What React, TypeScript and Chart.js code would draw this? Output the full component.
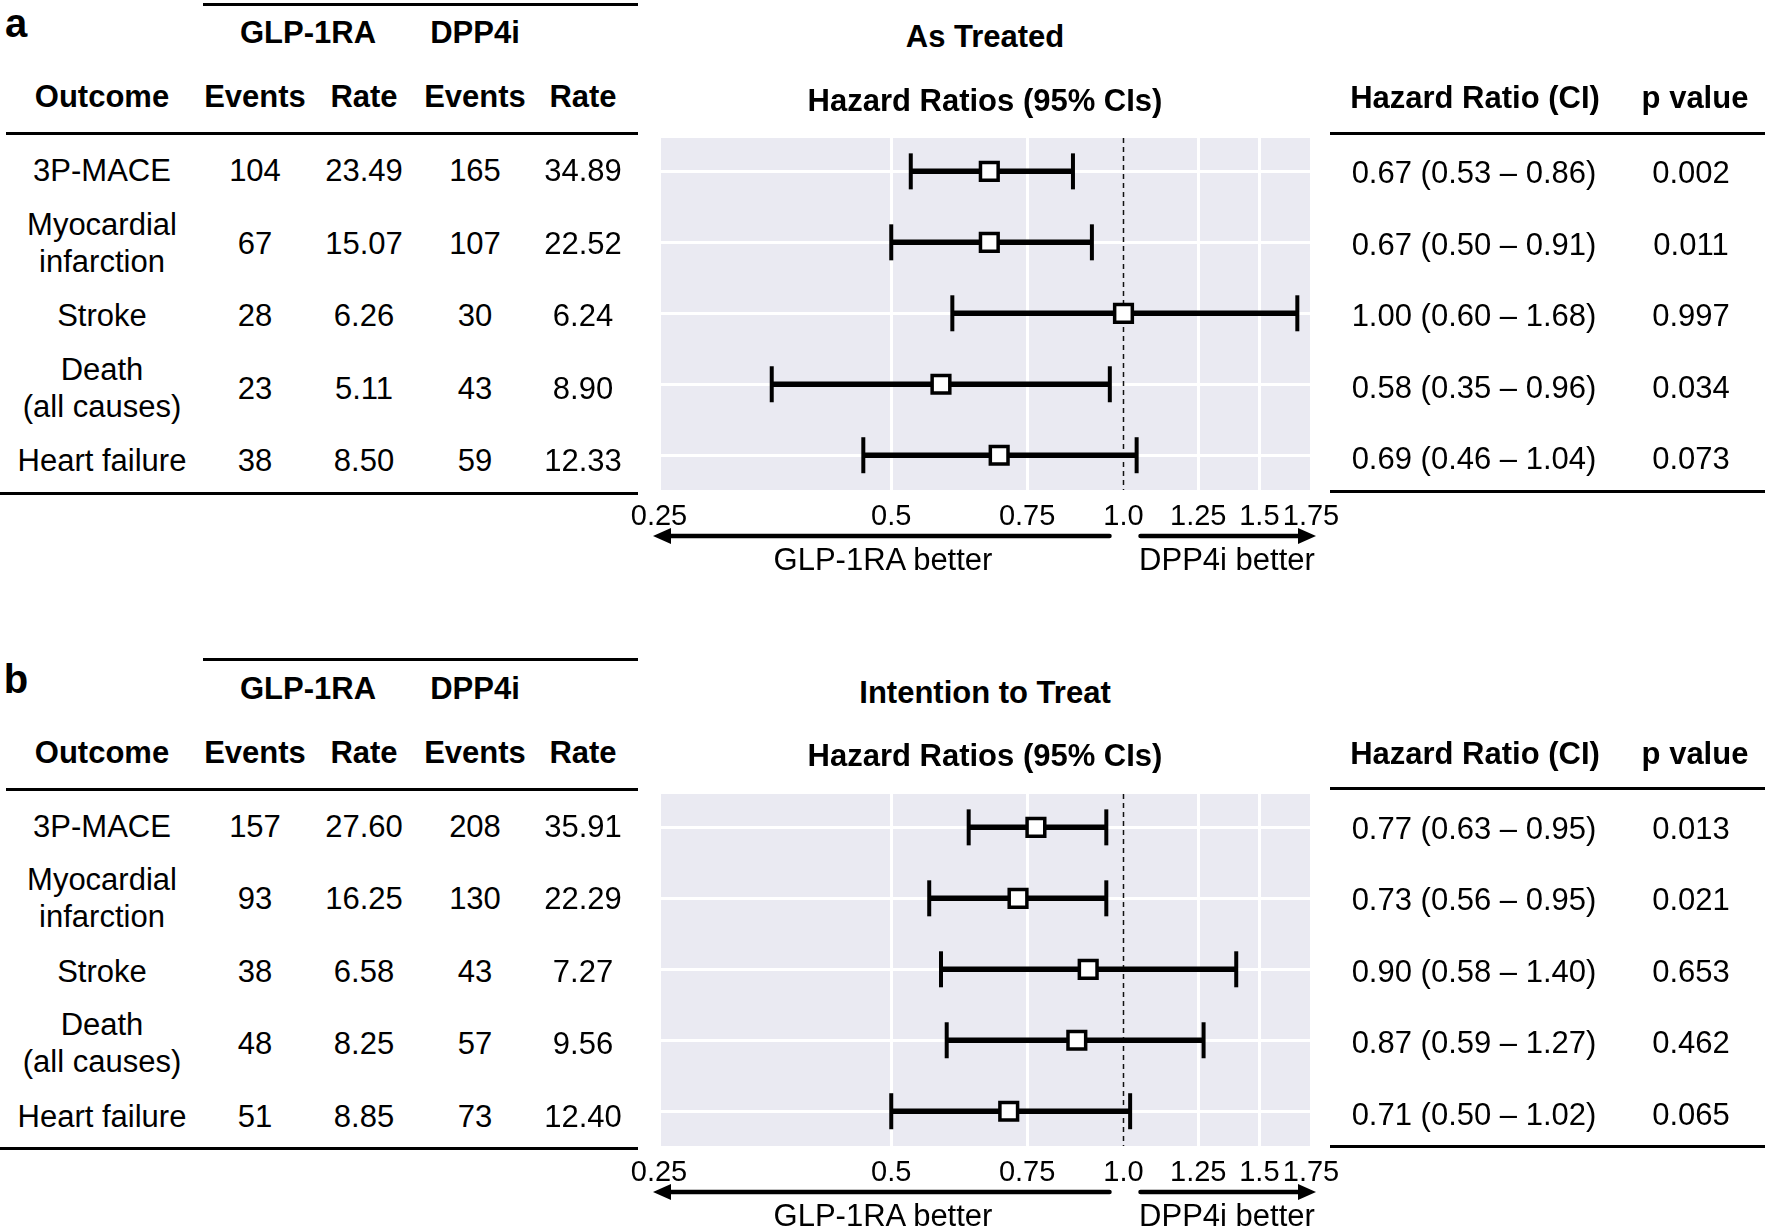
import React, { useEffect, useRef } from 'react';
import { Chart, registerables } from 'chart.js';

Chart.register(...registerables);

const FONT = '"Liberation Sans", Arial, Helvetica, sans-serif';
const NARROW = '"Liberation Sans Narrow", "Arial Narrow", "Liberation Sans", Arial, sans-serif';
Chart.defaults.font.family = FONT;

// ---------- shared categories / ticks ----------
const outcomes = ['3P-MACE', 'Myocardial\ninfarction', 'Stroke', 'Death\n(all causes)', 'Heart failure'];
const xTicks = [0.25, 0.5, 0.75, 1.0, 1.25, 1.5, 1.75];
const xTickLabels = ['0.25', '0.5', '0.75', '1.0', '1.25', '1.5', '1.75'];

// ---------- panel a: As Treated ----------
const atGlpEvents = [104, 67, 28, 23, 38];
const atGlpRate = [23.49, 15.07, 6.26, 5.11, 8.5];
const atDppEvents = [165, 107, 30, 43, 59];
const atDppRate = [34.89, 22.52, 6.24, 8.9, 12.33];
const atHR = [0.67, 0.67, 1.0, 0.58, 0.69];
const atLo = [0.53, 0.5, 0.6, 0.35, 0.46];
const atHi = [0.86, 0.91, 1.68, 0.96, 1.04];
const atP = ['0.002', '0.011', '0.997', '0.034', '0.073'];

// ---------- panel b: Intention to Treat ----------
const ittGlpEvents = [157, 93, 38, 48, 51];
const ittGlpRate = [27.6, 16.25, 6.58, 8.25, 8.85];
const ittDppEvents = [208, 130, 43, 57, 73];
const ittDppRate = [35.91, 22.29, 7.27, 9.56, 12.4];
const ittHR = [0.77, 0.73, 0.9, 0.87, 0.71];
const ittLo = [0.63, 0.56, 0.58, 0.59, 0.5];
const ittHi = [0.95, 0.95, 1.4, 1.27, 1.02];
const ittP = ['0.013', '0.021', '0.653', '0.462', '0.065'];

function T(props: { x: number; y: number; bold?: boolean; size?: number; lh?: number; children: React.ReactNode }) {
  const { x, y, bold = false, size = 31, lh = 37, children } = props;
  return (
    <div
      style={{
        position: 'absolute',
        left: x,
        top: y,
        transform: 'translate(-50%,-50%)',
        fontFamily: FONT,
        fontSize: size,
        fontWeight: bold ? 700 : 400,
        lineHeight: lh + 'px',
        whiteSpace: 'pre',
        textAlign: 'center',
        color: '#000',
      }}
    >
      {children}
    </div>
  );
}

function HLine(props: { x1: number; x2: number; y: number }) {
  return (
    <div
      style={{
        position: 'absolute',
        left: props.x1,
        top: props.y - 1.5,
        width: props.x2 - props.x1,
        height: 3,
        background: '#000',
      }}
    />
  );
}

const CANVAS_L = 620;
const CANVAS_W = 740;
const CANVAS_H = 480;

function Forest(props: { top: number; hr: number[]; lo: number[]; hi: number[] }) {
  const ref = useRef<HTMLCanvasElement>(null);
  useEffect(() => {
    if (!ref.current) return;
    const { hr, lo, hi } = props;
    const bgPlugin = {
      id: 'forestDeco',
      beforeDraw(chart: any) {
        const { ctx, chartArea: a } = chart;
        ctx.save();
        ctx.fillStyle = '#EAEAF2';
        ctx.fillRect(a.left, a.top, a.right - a.left, a.bottom - a.top);
        ctx.restore();
      },
      beforeDatasetsDraw(chart: any) {
        const { ctx, chartArea: a } = chart;
        const x = chart.scales.x.getPixelForValue(1);
        ctx.save();
        ctx.strokeStyle = '#111';
        ctx.lineWidth = 1.5;
        ctx.setLineDash([5, 4]);
        ctx.beginPath();
        ctx.moveTo(x, a.top);
        ctx.lineTo(x, a.bottom);
        ctx.stroke();
        ctx.restore();
      },
      afterDraw(chart: any) {
        const { ctx, chartArea: a } = chart;
        const x1 = chart.scales.x.getPixelForValue(1);
        const ay = a.bottom + 46;
        const head = (tipX: number, dir: number) => {
          ctx.beginPath();
          ctx.moveTo(tipX, ay);
          ctx.lineTo(tipX - dir * 18, ay - 8);
          ctx.lineTo(tipX - dir * 18, ay + 8);
          ctx.closePath();
          ctx.fill();
        };
        ctx.save();
        ctx.strokeStyle = '#000';
        ctx.fillStyle = '#000';
        ctx.lineWidth = 4.5;
        ctx.lineCap = 'round';
        ctx.beginPath();
        ctx.moveTo(x1 - 14, ay);
        ctx.lineTo(a.left + 6, ay);
        ctx.stroke();
        head(a.left - 6, -1);
        ctx.beginPath();
        ctx.moveTo(x1 + 17, ay);
        ctx.lineTo(a.right - 6, ay);
        ctx.stroke();
        head(a.right + 5, 1);
        ctx.restore();
      },
    };
    const datasets: any[] = [
      {
        type: 'scatter',
        data: hr.map((v, i) => ({ x: v, y: i })),
        pointStyle: 'rect',
        pointRadius: 12.5,
        pointBorderWidth: 3.5,
        pointBackgroundColor: '#fff',
        pointBorderColor: '#000',
        order: 0,
      },
      ...lo.map((l, i) => ({
        type: 'line',
        data: [
          { x: l, y: i },
          { x: hi[i], y: i },
        ],
        borderColor: '#000',
        borderWidth: 5.5,
        pointStyle: 'line',
        pointRotation: 90,
        pointRadius: 18,
        pointBorderWidth: 4,
        pointBorderColor: '#000',
        order: 1,
      })),
    ];
    const chart = new Chart(ref.current, {
      type: 'scatter',
      data: { datasets },
      plugins: [bgPlugin],
      options: {
        responsive: false,
        animation: false,
        events: [],
        layout: { padding: { left: 39, right: CANVAS_W - (1311 - CANVAS_L), top: 38, bottom: 0 } },
        plugins: { legend: { display: false }, tooltip: { enabled: false } },
        scales: {
          x: {
            type: 'logarithmic',
            min: 0.25,
            max: 1.75,
            afterBuildTicks: (s: any) => {
              s.ticks = xTicks.map((v) => ({ value: v }));
            },
            afterFit: (s: any) => {
              s.height = 90;
            },
            ticks: {
              callback: (_v: any, i: number) => xTickLabels[i],
              autoSkip: false,
              maxRotation: 0,
              minRotation: 0,
              padding: 10,
              color: '#000',
              font: { size: 29, family: NARROW },
            },
            grid: {
              color: (c: any) => (c.tick && c.tick.value === 1 ? 'rgba(0,0,0,0)' : '#ffffff'),
              lineWidth: 3,
              drawTicks: false,
            },
            border: { display: false },
          },
          y: {
            type: 'linear',
            reverse: true,
            min: -0.47,
            max: 4.49,
            afterBuildTicks: (s: any) => {
              s.ticks = outcomes.map((_o, i) => ({ value: i }));
            },
            afterFit: (s: any) => {
              s.width = 0;
            },
            ticks: { display: false },
            grid: { color: '#ffffff', lineWidth: 3, drawTicks: false },
            border: { display: false },
          },
        },
      } as any,
    });
    return () => chart.destroy();
  }, []);
  return (
    <canvas
      ref={ref}
      width={CANVAS_W}
      height={CANVAS_H}
      style={{ position: 'absolute', left: CANVAS_L, top: props.top, width: CANVAS_W, height: CANVAS_H }}
    />
  );
}

function Panel(props: {
  dy: number;
  letter: string;
  title: string;
  glpEvents: number[];
  glpRate: number[];
  dppEvents: number[];
  dppRate: number[];
  hr: number[];
  lo: number[];
  hi: number[];
  p: string[];
}) {
  const { dy } = props;
  const rowY = (i: number) => dy + 170 + 72.5 * i;
  const rRowY = (i: number) => dy + 172 + 71.5 * i;
  return (
    <>
      <Forest top={dy + 100} hr={props.hr} lo={props.lo} hi={props.hi} />
      <T x={16} y={dy + 23} bold size={40}>
        {props.letter}
      </T>
      <HLine x1={203} x2={638} y={dy + 4} />
      <T x={308} y={dy + 32} bold>GLP-1RA</T>
      <T x={475} y={dy + 32} bold>DPP4i</T>
      <T x={102} y={dy + 96} bold>Outcome</T>
      <T x={255} y={dy + 96} bold>Events</T>
      <T x={364} y={dy + 96} bold>Rate</T>
      <T x={475} y={dy + 96} bold>Events</T>
      <T x={583} y={dy + 96} bold>Rate</T>
      <HLine x1={6} x2={638} y={dy + 133.5} />
      {outcomes.map((o, i) => (
        <React.Fragment key={i}>
          <T x={102} y={rowY(i)}>{o}</T>
          <T x={255} y={rowY(i)}>{String(props.glpEvents[i])}</T>
          <T x={364} y={rowY(i)}>{props.glpRate[i].toFixed(2)}</T>
          <T x={475} y={rowY(i)}>{String(props.dppEvents[i])}</T>
          <T x={583} y={rowY(i)}>{props.dppRate[i].toFixed(2)}</T>
          <T x={1474} y={rRowY(i)}>
            {`${props.hr[i].toFixed(2)} (${props.lo[i].toFixed(2)} \u2013 ${props.hi[i].toFixed(2)})`}
          </T>
          <T x={1691} y={rRowY(i)}>{props.p[i]}</T>
        </React.Fragment>
      ))}
      <HLine x1={0} x2={638} y={dy + 493} />
      <T x={985} y={dy + 36} bold>{props.title}</T>
      <T x={985} y={dy + 99.5} bold>Hazard Ratios (95% CIs)</T>
      <T x={1475} y={dy + 97} bold>Hazard Ratio (CI)</T>
      <T x={1695} y={dy + 97} bold>p value</T>
      <HLine x1={1330} x2={1765} y={dy + 133.3} />
      <HLine x1={1330} x2={1765} y={dy + 491} />
      <T x={883} y={dy + 559}>GLP-1RA better</T>
      <T x={1227} y={dy + 559}>DPP4i better</T>
    </>
  );
}

export default function App() {
  return (
    <div style={{ position: 'absolute', left: 0, top: 0, width: 1772, height: 1229, background: '#fff', overflow: 'hidden' }}>
      <Panel
        dy={0}
        letter="a"
        title="As Treated"
        glpEvents={atGlpEvents}
        glpRate={atGlpRate}
        dppEvents={atDppEvents}
        dppRate={atDppRate}
        hr={atHR}
        lo={atLo}
        hi={atHi}
        p={atP}
      />
      <Panel
        dy={655.5}
        letter="b"
        title="Intention to Treat"
        glpEvents={ittGlpEvents}
        glpRate={ittGlpRate}
        dppEvents={ittDppEvents}
        dppRate={ittDppRate}
        hr={ittHR}
        lo={ittLo}
        hi={ittHi}
        p={ittP}
      />
    </div>
  );
}
